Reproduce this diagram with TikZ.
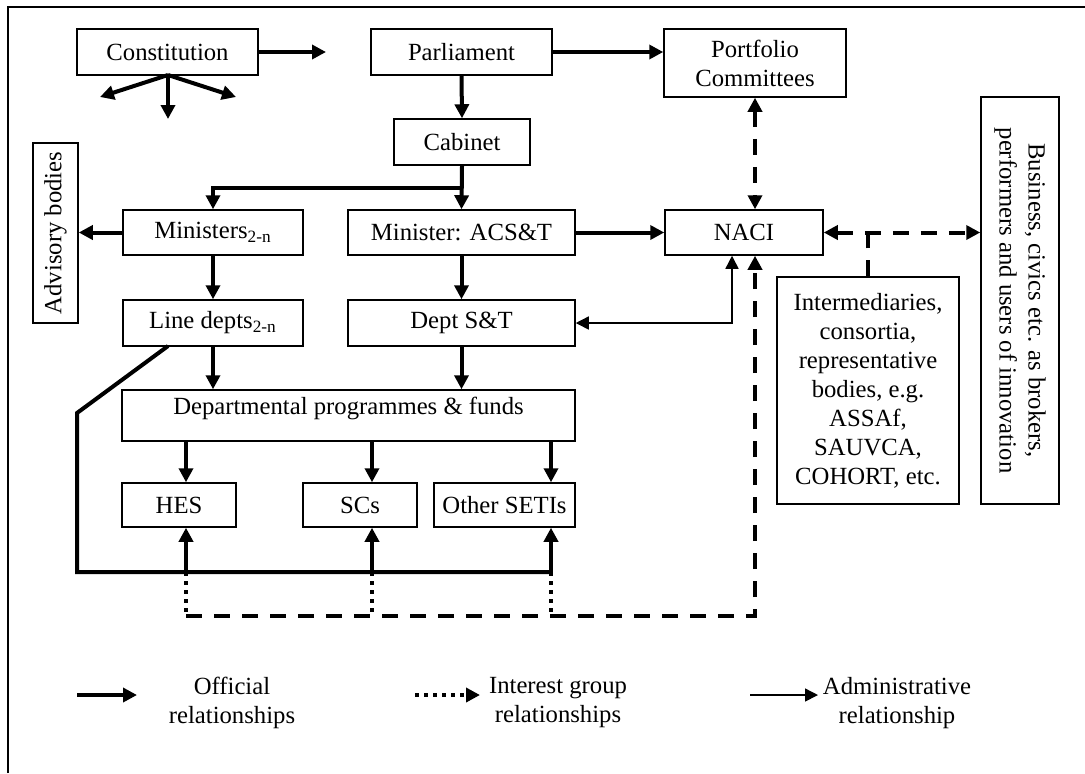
\documentclass[tikz,border=0pt]{standalone}
\usepackage{fontspec}
\setmainfont{Liberation Serif}
\usetikzlibrary{arrows.meta,calc}
\begin{document}
\begin{tikzpicture}[x=0.5pt,y=-0.5pt,
  box/.style={draw,line width=0.75pt,inner sep=0pt,align=center,font=\fontsize{12.35}{14.5}\selectfont},
  off/.style={line width=2pt,-{Triangle[width=7pt,length=7pt]}},
  offb/.style={line width=2pt,{Triangle[width=7pt,length=7pt]}-{Triangle[width=7pt,length=7pt]}},
  offl/.style={line width=2pt},
  intr/.style={line width=2pt,dash pattern=on 8pt off 6pt},
  intra/.style={intr,-{Triangle[width=7pt,length=7pt]}},
  intrb/.style={intr,{Triangle[width=7pt,length=7pt]}-{Triangle[width=7pt,length=7pt]}},
  dotl/.style={line width=2pt,dash pattern=on 2pt off 2.5pt},
  adm/.style={line width=0.75pt,{Triangle[width=6.5pt,length=6.5pt]}-{Triangle[width=6.5pt,length=6.5pt]}},
  admr/.style={line width=0.75pt,-{Triangle[width=6.5pt,length=6.5pt]}},
  lab/.style={align=center,font=\fontsize{12.35}{14.5}\selectfont,inner sep=0pt}]
\useasboundingbox (0,0) rectangle (1085,773);
% frame
\draw[line width=0.75pt] (8,773) -- (8,7) -- (1085,7);
% boxes
\node[box,minimum width=181*0.5pt,minimum height=46*0.5pt] (cons) at (167.5,52) {Constitution};
\node[box,minimum width=181*0.5pt,minimum height=46*0.5pt] (parl) at (461.5,52) {Parliament};
\node[box,minimum width=182*0.5pt,minimum height=68*0.5pt] (port) at (755,63) {Portfolio\\Committees};
\node[box,minimum width=136*0.5pt,minimum height=46*0.5pt] (cab) at (462,142) {Cabinet};
\node[box,minimum width=180*0.5pt,minimum height=45*0.5pt] (mins) at (213,232.5) {Ministers\textsubscript{2-n}};
\node[box,minimum width=227*0.5pt,minimum height=45*0.5pt] (mact) at (461.5,232.5) {Minister: ACS\&T};
\node[box,minimum width=158*0.5pt,minimum height=45*0.5pt] (naci) at (744,232.5) {NACI};
\node[box,minimum width=45*0.5pt,minimum height=180*0.5pt] (adv) at (55.5,233) {\rotatebox{90}{Advisory bodies}};
\node[box,minimum width=180*0.5pt,minimum height=46*0.5pt] (line) at (213,323) {Line depts\textsubscript{2-n}};
\node[box,minimum width=227*0.5pt,minimum height=46*0.5pt] (dst) at (461.5,323) {Dept S\&T};
\node[box,minimum width=453*0.5pt,minimum height=51*0.5pt] (dept) at (348.5,415.5) {};
\node[lab] (deptt) at (348.5,408) {Departmental programmes \& funds};
\node[box,minimum width=114*0.5pt,minimum height=44*0.5pt] (hes) at (179,505) {HES};
\node[box,minimum width=114*0.5pt,minimum height=44*0.5pt] (scs) at (360,505) {SCs};
\node[box,minimum width=141*0.5pt,minimum height=44*0.5pt] (oth) at (504.5,505) {Other SETIs};
\node[box,minimum width=182*0.5pt,minimum height=227*0.5pt] (inter) at (868,390.5) {Intermediaries,\\consortia,\\representative\\bodies, e.g.\\ASSAf,\\SAUVCA,\\COHORT, etc.};
\node[box,minimum width=78*0.5pt,minimum height=407*0.5pt] (bus) at (1020,300.5) {\rotatebox{-90}{\begin{tabular}{@{}c@{}}Business, civics etc. as brokers,\\performers and users of innovation\end{tabular}}};
% free ends
\coordinate (c1) at (326,52);
\coordinate (cs) at (168,75);
\coordinate (cl) at (100,97);
\coordinate (cd) at (168,119);
\coordinate (cr) at (236,97);
\coordinate (br) at (462,188);
\coordinate (bl) at (213,188);
\coordinate (ld) at (168,346);
\coordinate (k1) at (77,413);
\coordinate (k2) at (77,572);
\coordinate (h1) at (186,572);
\coordinate (s1) at (372,572);
\coordinate (o1) at (551,572);
\coordinate (h2) at (186,616);
\coordinate (s2) at (372,616);
\coordinate (o2) at (551,616);
\coordinate (n2) at (755,616);
\coordinate (tc) at (732,323);
\coordinate (ij) at (868,232.5);
% official
\draw[off] (cons.east) -- (c1);
\draw[off] (cs) -- (cl);
\draw[off] (cs) -- (cd);
\draw[off] (cs) -- (cr);
\draw[off] (parl.east) -- (parl.east -| port.west);
\draw[off] (parl.south) -- (cab.north);
\draw[off] (cab.south) -- (mact.north);
\draw[off] (br) -- (bl) -- (mins.north);
\draw[off] (mins.west) -- (mins.west -| adv.east);
\draw[off] (mact.east) -- (naci.west);
\draw[off] (mins.south) -- (line.north);
\draw[off] (mact.south) -- (dst.north);
\draw[off] (line.south) -- (line.south |- dept.north);
\draw[off] (dst.south) -- (dst.south |- dept.north);
\draw[off] (dept.south -| h1) -- (h1 |- hes.north);
\draw[off] (dept.south -| s1) -- (s1 |- scs.north);
\draw[off] (dept.south -| o1) -- (o1 |- oth.north);
\draw[offl,line join=miter] (ld) -- (k1) -- (k2) -- (o1);
\draw[off] (o1) -- (o1 |- oth.south);
\draw[off] (h1) -- (h1 |- hes.south);
\draw[off] (s1) -- (s1 |- scs.south);
% interest group
\draw[dotl] (h1) -- (h2);
\draw[dotl] (s1) -- (s2);
\draw[dotl] (o1) -- (o2);
\draw[intra] (h2) -- (n2) -- (n2 |- naci.south);
\draw[intrb] (port.south) -- (naci.north -| port.south);
\draw[intrb] (naci.east) -- (naci.east -| bus.west);
\draw[intr] (inter.north) -- (ij);
% administrative
\draw[adm] (dst.east) -- (tc) -- (tc |- naci.south);
% legend
\coordinate (la1) at (77,695);
\coordinate (la2) at (137,695);
\coordinate (lb1) at (415,695);
\coordinate (lb2) at (480,695);
\coordinate (lc1) at (750,695);
\coordinate (lc2) at (818,695);
\draw[off] (la1) -- (la2);
\draw[dotl] (lb1) -- ($(lb2)+(-12,0)$);
\draw[off] ($(lb2)+(-13,0)$) -- (lb2);
\draw[admr] (lc1) -- (lc2);
\node[lab] (l1) at (232,703) {Official\\relationships};
\node[lab] (l2) at (558,703) {Interest group\\relationships};
\node[lab] (l3) at (897,703) {Administrative\\relationship};
\end{tikzpicture}
\end{document}
